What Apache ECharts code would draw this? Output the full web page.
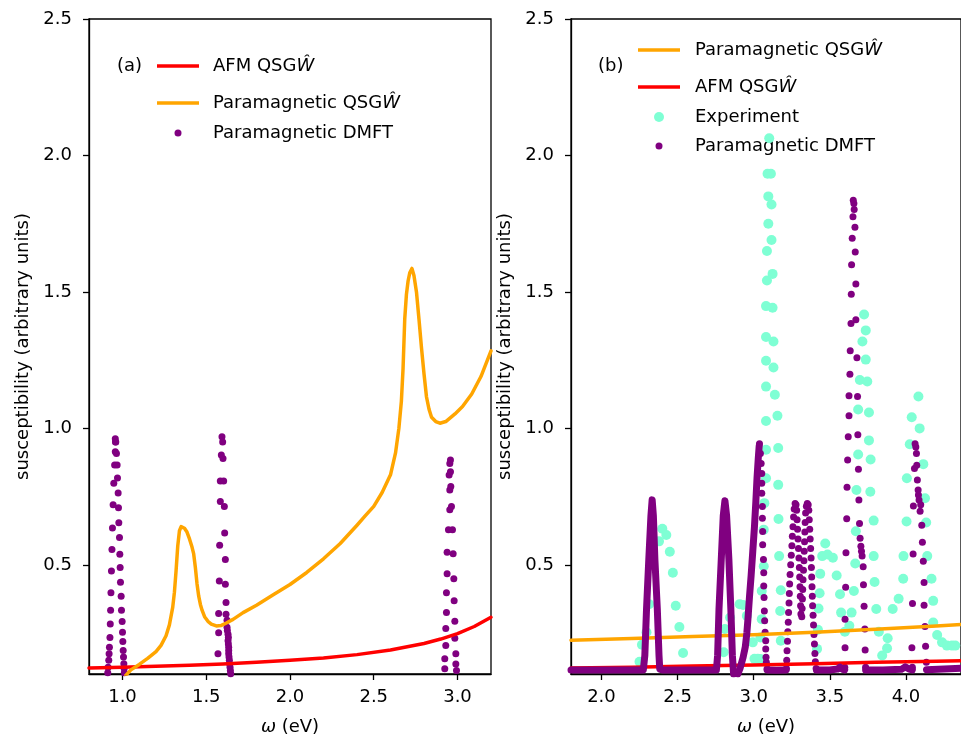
<!DOCTYPE html>
<html>
<head>
<meta charset="utf-8">
<script src="https://cdn.jsdelivr.net/npm/echarts@6/dist/echarts.min.js"></script>
<style>
  html, body { margin: 0; padding: 0; background: #fff; }
  #chart { width: 961px; height: 741px; }
</style>
</head>
<body>
<div id="chart"></div>
<script>
// tick labels
const yTicks = [0.5, 1.0, 1.5, 2.0, 2.5];
const xTicksA = [1.0, 1.5, 2.0, 2.5, 3.0];
const xTicksB = [2.0, 2.5, 3.0, 3.5, 4.0];

// panel (a)
const afmA = [[0.8,0.122],[1.0,0.125],[1.2,0.128],[1.4,0.132],[1.6,0.137],[1.8,0.143],[2.0,0.150],[2.2,0.159],[2.4,0.171],[2.6,0.188],[2.8,0.212],[2.9,0.228],[3.0,0.248],[3.1,0.274],[3.2,0.308]];

const paraA = [[1.02,0.095],[1.05,0.115],[1.10,0.135],[1.15,0.157],[1.20,0.182],[1.23,0.205],[1.26,0.24],[1.28,0.28],[1.30,0.345],[1.31,0.40],[1.32,0.48],[1.33,0.57],[1.34,0.625],[1.35,0.640],[1.357,0.642],[1.37,0.634],[1.385,0.620],[1.40,0.595],[1.415,0.565],[1.425,0.540],[1.435,0.49],[1.445,0.43],[1.455,0.385],[1.465,0.355],[1.475,0.334],[1.49,0.31],[1.51,0.293],[1.53,0.283],[1.56,0.276],[1.59,0.278],[1.62,0.287],[1.66,0.300],[1.72,0.325],[1.80,0.352],[1.90,0.390],[2.00,0.428],[2.10,0.472],[2.20,0.522],[2.30,0.578],[2.40,0.645],[2.45,0.680],[2.50,0.714],[2.55,0.765],[2.60,0.830],[2.63,0.91],[2.65,1.00],[2.665,1.10],[2.675,1.22],[2.685,1.40],[2.695,1.49],[2.705,1.54],[2.715,1.57],[2.728,1.586],[2.74,1.56],[2.755,1.50],[2.77,1.40],[2.785,1.295],[2.80,1.20],[2.815,1.115],[2.83,1.07],[2.845,1.041],[2.87,1.025],[2.895,1.019],[2.93,1.025],[2.985,1.053],[3.03,1.08],[3.085,1.126],[3.14,1.19],[3.2,1.284]];

const dmftA = [
  // ~0.96 eV
  [0.912,0.105],[0.914,0.125],[0.918,0.150],[0.920,0.174],[0.922,0.198],[0.925,0.234],[0.927,0.283],[0.929,0.334],[0.931,0.398],[0.934,0.477],[0.937,0.556],[0.940,0.635],[0.944,0.720],[0.948,0.799],[0.953,0.866],[0.957,0.914],[0.958,0.950],[0.957,0.962],
  [0.960,0.950],[0.964,0.908],[0.968,0.866],[0.970,0.818],[0.974,0.763],[0.976,0.709],[0.978,0.654],[0.982,0.600],[0.984,0.539],[0.986,0.490],[0.988,0.436],[0.992,0.385],[0.994,0.334],[0.998,0.292],[1.000,0.253],[1.002,0.219],[1.004,0.186],[1.006,0.162],[1.008,0.138],[1.010,0.120],[1.011,0.105],
  // ~1.6 eV
  [1.594,0.969],[1.598,0.950],[1.590,0.902],[1.600,0.890],[1.584,0.807],[1.604,0.807],[1.584,0.732],[1.608,0.714],[1.610,0.617],[1.580,0.572],[1.614,0.520],[1.578,0.441],[1.614,0.429],[1.618,0.362],[1.574,0.322],[1.618,0.319],[1.624,0.297],[1.624,0.271],[1.626,0.259],[1.574,0.251],[1.630,0.246],[1.632,0.234],[1.630,0.222],[1.632,0.210],[1.634,0.198],[1.634,0.186],[1.570,0.174],[1.634,0.174],[1.636,0.162],[1.638,0.150],[1.640,0.137],[1.642,0.125],[1.644,0.113],[1.646,0.101],
  // ~2.95 eV
  [2.958,0.884],[2.954,0.871],[2.958,0.841],[2.950,0.829],[2.960,0.787],[2.954,0.774],[2.964,0.714],[2.954,0.702],[2.970,0.629],[2.946,0.629],[2.938,0.546],[2.974,0.541],[2.938,0.467],[2.978,0.449],[2.934,0.398],[2.980,0.368],[2.934,0.325],[2.984,0.293],[2.930,0.267],[2.984,0.231],[2.930,0.204],[2.990,0.174],[2.924,0.156],[2.990,0.137],[2.924,0.119],[2.994,0.113]
];

// panel (b)
const paraB = [[1.8,0.224],[2.2,0.230],[2.6,0.237],[3.0,0.244],[3.4,0.253],[3.8,0.264],[4.2,0.276],[4.37,0.282]];
const afmB = [[1.8,0.122],[2.2,0.125],[2.6,0.129],[3.0,0.133],[3.4,0.138],[3.8,0.143],[4.2,0.147],[4.37,0.149]];

const expB = [
  [2.250,0.145],[2.266,0.207],[2.296,0.253],[2.313,0.356],[2.378,0.586],[2.400,0.632],[2.426,0.609],[2.449,0.548],[2.469,0.471],[2.488,0.350],[2.512,0.272],[2.536,0.177],
  [2.803,0.180],[2.810,0.265],[2.845,0.307],[2.908,0.356],[2.931,0.353],[2.955,0.313],[2.994,0.216],[3.005,0.156],[3.027,0.156],
  [3.044,0.155],[3.044,0.234],[3.053,0.301],[3.053,0.404],[3.066,0.495],[3.066,0.629],[3.070,0.726],[3.081,0.817],[3.081,0.922],[3.081,1.027],[3.081,1.153],[3.081,1.248],[3.081,1.335],[3.081,1.448],[3.087,1.542],[3.087,1.650],[3.096,1.750],[3.096,1.850],[3.091,1.933],[3.113,1.933],[3.102,2.063],[3.117,1.820],[3.117,1.690],[3.124,1.566],[3.124,1.442],[3.130,1.318],[3.130,1.223],[3.139,1.123],[3.156,1.046],[3.161,0.928],[3.161,0.793],[3.163,0.668],[3.167,0.532],[3.178,0.407],[3.174,0.331],[3.178,0.222],
  [3.416,0.192],[3.422,0.262],[3.426,0.340],[3.433,0.396],[3.437,0.467],[3.450,0.532],[3.470,0.578],[3.485,0.538],[3.520,0.526],[3.545,0.461],[3.567,0.392],[3.574,0.325],[3.599,0.255],[3.628,0.277],[3.643,0.325],[3.658,0.404],[3.667,0.505],[3.671,0.623],[3.675,0.774],[3.686,0.904],[3.686,1.069],[3.697,1.177],[3.714,1.318],[3.725,1.417],[3.736,1.359],[3.736,1.252],[3.746,1.172],[3.757,1.058],[3.757,0.956],[3.768,0.886],[3.766,0.768],[3.788,0.662],[3.788,0.532],[3.794,0.437],[3.805,0.338],[3.822,0.255],[3.844,0.168],[3.876,0.194],[3.880,0.231],[3.913,0.338],[3.952,0.376],[3.982,0.449],[3.984,0.532],[4.004,0.659],[4.006,0.817],[4.025,0.942],[4.038,1.041],[4.082,1.117],[4.090,1.000],[4.114,0.869],[4.125,0.744],[4.133,0.655],[4.140,0.532],[4.168,0.449],[4.179,0.368],[4.179,0.289],[4.205,0.243],[4.237,0.216],[4.269,0.204],[4.302,0.204],[4.324,0.204]
];

// DMFT in (b): densely sampled stretches (dots merge into a band)
const dmftBandB = [
  [[1.8,0.115],[2.0,0.115],[2.2,0.115],[2.275,0.115],[2.280,0.120],[2.285,0.168],[2.296,0.337],[2.311,0.52],[2.325,0.68],[2.333,0.738],[2.341,0.68],[2.351,0.52],[2.367,0.337],[2.378,0.168],[2.383,0.118],[2.40,0.115],[2.55,0.115],[2.70,0.115],[2.755,0.115],[2.758,0.12],[2.763,0.168],[2.772,0.337],[2.787,0.52],[2.800,0.68],[2.811,0.735],[2.822,0.68],[2.837,0.52],[2.850,0.337],[2.860,0.168],[2.868,0.10]],
  [[2.896,0.10],[2.91,0.12],[2.93,0.16],[2.945,0.20],[2.955,0.25],[2.962,0.30],[2.972,0.38],[2.983,0.46],[2.994,0.55],[3.005,0.64],[3.014,0.73],[3.022,0.82],[3.030,0.89],[3.036,0.935]],
  [[3.088,0.115],[3.15,0.114],[3.213,0.115]],
  [[3.412,0.115],[3.50,0.115],[3.55,0.118],[3.567,0.125],[3.585,0.117],[3.598,0.115]],
  [[3.735,0.115],[3.85,0.115],[3.97,0.117],[3.995,0.126],[4.02,0.118],[4.042,0.115]],
  [[4.135,0.116],[4.25,0.118],[4.37,0.121]]
];

// DMFT in (b): individually visible dots
const dmftDotsB = [
  // falling side of the 3.04 eV peak
  [3.038,0.944],[3.044,0.908],[3.049,0.871],[3.053,0.835],[3.053,0.799],[3.053,0.762],[3.057,0.714],[3.057,0.671],[3.059,0.622],[3.059,0.574],[3.064,0.520],[3.066,0.471],[3.066,0.422],[3.068,0.380],[3.070,0.331],[3.072,0.295],[3.075,0.253],[3.079,0.222],[3.079,0.192],[3.081,0.161],[3.083,0.143],[3.088,0.119],
  // double peak 3.27 / 3.35 eV
  [3.215,0.12],[3.217,0.15],[3.219,0.185],[3.222,0.22],[3.224,0.255],[3.227,0.29],[3.229,0.325],[3.232,0.36],[3.234,0.395],[3.236,0.43],[3.239,0.465],[3.243,0.50],[3.247,0.535],[3.251,0.57],[3.254,0.605],[3.258,0.64],[3.262,0.675],[3.266,0.705],[3.272,0.725],
  [3.278,0.72],[3.282,0.70],[3.285,0.665],[3.288,0.63],[3.291,0.595],[3.294,0.56],[3.297,0.525],[3.300,0.49],[3.302,0.455],[3.304,0.42],[3.306,0.385],[3.308,0.35],[3.310,0.32],
  [3.316,0.31],[3.318,0.34],[3.320,0.375],[3.322,0.41],[3.324,0.445],[3.327,0.48],[3.330,0.515],[3.332,0.55],[3.334,0.585],[3.336,0.62],[3.338,0.655],[3.341,0.69],[3.346,0.715],[3.352,0.725],
  [3.358,0.72],[3.362,0.70],[3.365,0.665],[3.368,0.63],[3.371,0.595],[3.374,0.56],[3.377,0.525],[3.379,0.49],[3.381,0.455],[3.383,0.42],[3.385,0.385],[3.387,0.35],[3.390,0.315],[3.393,0.28],[3.396,0.245],[3.399,0.21],[3.402,0.175],[3.405,0.145],[3.410,0.12],
  // 3.65 eV
  [3.654,1.836],[3.658,1.824],[3.660,1.802],[3.652,1.775],[3.665,1.737],[3.647,1.697],[3.667,1.646],[3.643,1.600],[3.671,1.529],[3.641,1.491],[3.671,1.398],[3.639,1.384],[3.634,1.284],[3.678,1.259],[3.632,1.198],[3.626,1.120],[3.682,1.117],[3.626,1.046],[3.684,0.977],[3.621,0.969],[3.617,0.884],[3.688,0.850],[3.613,0.784],[3.691,0.738],[3.611,0.669],[3.695,0.651],[3.699,0.597],[3.704,0.568],[3.708,0.550],[3.606,0.544],[3.712,0.532],[3.719,0.493],[3.721,0.427],[3.604,0.418],[3.725,0.348],[3.600,0.301],[3.730,0.265],[3.600,0.196],[3.732,0.188],[3.598,0.125],[3.735,0.125],
  // 4.06 eV
  [4.060,0.944],[4.065,0.932],[4.069,0.908],[4.071,0.865],[4.056,0.853],[4.075,0.811],[4.080,0.774],[4.082,0.756],[4.086,0.738],[4.049,0.716],[4.097,0.720],[4.093,0.696],[4.104,0.645],[4.108,0.583],[4.047,0.540],[4.114,0.513],[4.119,0.435],[4.043,0.358],[4.119,0.352],[4.125,0.274],[4.039,0.196],[4.129,0.202],[4.134,0.143],[4.042,0.125]
];

const FONT = 'DejaVu Sans';
const RED = '#ff0000', ORANGE = '#ffa500', PURPLE = '#800080', AQUA = '#7fffd4';
const fmt = v => Number(v).toFixed(1);
const rich = { i: { fontStyle: 'italic', fontFamily: FONT, fontSize: 18, color: '#000' } };

function xAxis(gi, min, max, ticks) {
  return {
    type: 'value', gridIndex: gi, min: min, max: max,
    name: '{i|ω} (eV)', nameLocation: 'middle', nameGap: 44,
    nameTextStyle: { fontFamily: FONT, fontSize: 18, color: '#000', rich: rich },
    axisLine: { show: true, onZero: false, lineStyle: { color: '#000', width: 1.3 } },
    axisTick: { show: true, length: 6, customValues: ticks, lineStyle: { color: '#000', width: 1.3 } },
    axisLabel: { customValues: ticks, formatter: fmt, margin: 14, fontFamily: FONT, fontSize: 18, color: '#000' },
    splitLine: { show: false }
  };
}
function yAxis(gi) {
  return {
    type: 'value', gridIndex: gi, min: 0.1, max: 2.5,
    name: 'susceptibility (arbitrary units)', nameLocation: 'middle', nameGap: 57,
    nameTextStyle: { fontFamily: FONT, fontSize: 18, color: '#000' },
    axisLine: { show: true, lineStyle: { color: '#000', width: 1.3 } },
    axisTick: { show: true, length: 6, customValues: yTicks, lineStyle: { color: '#000', width: 1.3 } },
    axisLabel: { customValues: yTicks, formatter: fmt, margin: 17, fontFamily: FONT, fontSize: 18, color: '#000' },
    splitLine: { show: false }
  };
}
function lineSeries(gi, data, color, width) {
  return { type: 'line', xAxisIndex: gi, yAxisIndex: gi, data: data, showSymbol: false, symbol: 'none',
    lineStyle: { color: color, width: width, cap: 'round', join: 'round' }, animation: false, silent: true };
}
function dotSeries(gi, data, color, size) {
  return { type: 'scatter', xAxisIndex: gi, yAxisIndex: gi, data: data, symbol: 'circle', symbolSize: size,
    itemStyle: { color: color, opacity: 1 }, animation: false, silent: true };
}

const series = [
  lineSeries(0, afmA, RED, 3.5),
  lineSeries(0, paraA, ORANGE, 3.5),
  dotSeries(0, dmftA, PURPLE, 7),
  lineSeries(1, paraB, ORANGE, 3.5),
  lineSeries(1, afmB, RED, 3.5),
  dotSeries(1, expB, AQUA, 10)
];
dmftBandB.forEach(seg => series.push(lineSeries(1, seg, PURPLE, 7)));
series.push(dotSeries(1, dmftDotsB, PURPLE, 7));

function legText(x, y, t) {
  return { type: 'text', x: x, y: y, style: { text: t, fontFamily: FONT, fontSize: 18, fill: '#000',
    verticalAlign: 'middle', align: 'left', rich: rich } };
}
function legLine(x, y, color) {
  return { type: 'line', shape: { x1: x, y1: y, x2: x + 42, y2: y }, style: { stroke: color, lineWidth: 3.5 } };
}
function legDot(x, y, color, r) {
  return { type: 'circle', shape: { cx: x, cy: y, r: r }, style: { fill: color } };
}

const graphics = [
  legText(117, 66, '(a)'),
  legLine(157, 66, RED), legText(213, 66, 'AFM QSG{i|Ŵ}'),
  legLine(157, 103, ORANGE), legText(213, 103, 'Paramagnetic QSG{i|Ŵ}'),
  legDot(178, 133, PURPLE, 3.5), legText(213, 133, 'Paramagnetic DMFT'),
  legText(598, 66, '(b)'),
  legLine(638, 50, ORANGE), legText(695, 50, 'Paramagnetic QSG{i|Ŵ}'),
  legLine(638, 87, RED), legText(695, 87, 'AFM QSG{i|Ŵ}'),
  legDot(659, 117, AQUA, 5), legText(695, 117, 'Experiment'),
  legDot(659, 146, PURPLE, 3.5), legText(695, 146, 'Paramagnetic DMFT')
];

const chart = echarts.init(document.getElementById('chart'), null, { renderer: 'canvas' });
chart.setOption({
  animation: false,
  backgroundColor: '#fff',
  grid: [
    { left: 89, top: 19, width: 402, height: 658, show: true, borderColor: '#000', borderWidth: 1.3, backgroundColor: 'transparent' },
    { left: 571, top: 19, width: 395, height: 658, show: true, borderColor: '#000', borderWidth: 1.3, backgroundColor: 'transparent' }
  ],
  xAxis: [xAxis(0, 0.8, 3.2, xTicksA), xAxis(1, 1.8, 1.8 + 395 / 154.2, xTicksB)],
  yAxis: [yAxis(0), yAxis(1)],
  series: series,
  graphic: graphics
});
</script>
</body>
</html>
